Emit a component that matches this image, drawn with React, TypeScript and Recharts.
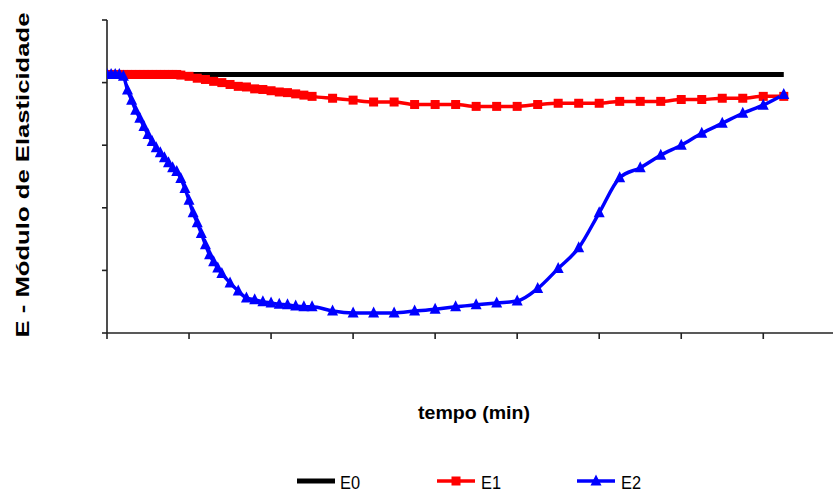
import React from 'react';
import { LineChart, Line, XAxis, YAxis, Legend } from 'recharts';

// time (min)
const e0Time = [0, 165];
const e0Vals = [4.13, 4.13];

const e1Time = [0, 1, 2, 3, 4, 5, 6, 7, 8, 9, 10, 11, 12, 13, 14, 15, 16, 17, 18, 20, 22, 24, 26, 28, 30, 32, 34, 36, 38, 40, 42, 44, 46, 48, 50, 55, 60, 65, 70, 75, 80, 85, 90, 95, 100, 105, 110, 115, 120, 125, 130, 135, 140, 145, 150, 155, 160, 165];
const e1Vals = [4.13, 4.13, 4.13, 4.13, 4.13, 4.13, 4.13, 4.13, 4.13, 4.13, 4.13, 4.13, 4.13, 4.13, 4.13, 4.13, 4.13, 4.13, 4.12, 4.10, 4.07, 4.05, 4.02, 4.0, 3.97, 3.94, 3.93, 3.9, 3.89, 3.87, 3.85, 3.84, 3.82, 3.8, 3.78, 3.75, 3.72, 3.69, 3.69, 3.65, 3.65, 3.65, 3.62, 3.62, 3.62, 3.65, 3.67, 3.67, 3.67, 3.7, 3.7, 3.7, 3.73, 3.73, 3.75, 3.75, 3.78, 3.78];

const e2Time = [0, 1, 2, 3, 4, 5, 6, 7, 8, 9, 10, 11, 12, 13, 14, 15, 16, 17, 18, 19, 20, 21, 22, 23, 24, 25, 26, 27, 28, 30, 32, 34, 36, 38, 40, 42, 44, 46, 48, 50, 55, 60, 65, 70, 75, 80, 85, 90, 95, 100, 105, 110, 115, 120, 125, 130, 135, 140, 145, 150, 155, 160, 165];
const e2Vals = [4.13, 4.13, 4.13, 4.13, 4.1, 3.88, 3.72, 3.56, 3.43, 3.3, 3.17, 3.06, 2.96, 2.88, 2.8, 2.72, 2.64, 2.58, 2.47, 2.31, 2.12, 1.92, 1.76, 1.59, 1.41, 1.25, 1.14, 1.04, 0.95, 0.8, 0.67, 0.56, 0.53, 0.5, 0.48, 0.46, 0.45, 0.43, 0.42, 0.42, 0.35, 0.32, 0.32, 0.32, 0.35, 0.38, 0.42, 0.45, 0.48, 0.51, 0.71, 1.03, 1.36, 1.92, 2.48, 2.64, 2.84, 3.0, 3.19, 3.35, 3.51, 3.64, 3.81];

const xTicks = [0, 20, 40, 60, 80, 100, 120, 140, 160];
const yTicks = [0, 1, 2, 3, 4, 5];
const seriesNames = ['E0', 'E1', 'E2'];
const xLabel = 'tempo (min)';
const yLabel = 'E - Módulo de Elasticidade';

const e0Data = e0Time.map((t, i) => ({ t, v: e0Vals[i] }));
const e1Data = e1Time.map((t, i) => ({ t, v: e1Vals[i] }));
const e2Data = e2Time.map((t, i) => ({ t, v: e2Vals[i] }));

const FONT = '"Liberation Sans", Arial, sans-serif';

const SquareDot = (props: any) => {
  const { cx, cy, index } = props;
  if (cx == null || cy == null) return <g key={`s${index}`} />;
  return <rect key={`s${index}`} x={cx - 4.5} y={cy - 4.5} width={9} height={9} fill="#FF0000" />;
};

const TriDot = (props: any) => {
  const { cx, cy, index } = props;
  if (cx == null || cy == null) return <g key={`t${index}`} />;
  return (
    <polygon
      key={`t${index}`}
      points={`${cx},${cy - 6.5} ${cx - 5.5},${cy + 4.5} ${cx + 5.5},${cy + 4.5}`}
      fill="#0000FF"
    />
  );
};

const LegendContent = () => (
  <svg width={833} height={30} style={{ display: 'block' }}>
    <line x1={297} x2={335} y1={13} y2={13} stroke="#000" strokeWidth={5} />
    <text x={340} y={21} fontFamily={FONT} fontSize={18} textLength={20} lengthAdjust="spacingAndGlyphs" fill="#000">{seriesNames[0]}</text>
    <line x1={437} x2={475} y1={13} y2={13} stroke="#FF0000" strokeWidth={3.5} />
    <rect x={451.5} y={8.5} width={9} height={9} fill="#FF0000" />
    <text x={481} y={21} fontFamily={FONT} fontSize={18} textLength={20} lengthAdjust="spacingAndGlyphs" fill="#000">{seriesNames[1]}</text>
    <line x1={577} x2={615} y1={13} y2={13} stroke="#0000FF" strokeWidth={3.5} />
    <polygon points="596,6.5 590.5,17.5 601.5,17.5" fill="#0000FF" />
    <text x={621} y={21} fontFamily={FONT} fontSize={18} textLength={20} lengthAdjust="spacingAndGlyphs" fill="#000">{seriesNames[2]}</text>
  </svg>
);

export default function App() {
  return (
    <div style={{ position: 'absolute', left: 0, top: 0, width: 833, height: 493, background: '#fff' }}>
      <LineChart width={833} height={493} margin={{ top: 20, right: 0, bottom: 100, left: 97 }}>
        <XAxis
          dataKey="t"
          type="number"
          domain={[0, 177]}
          ticks={xTicks}
          allowDataOverflow
          tickFormatter={() => ''}
          tickSize={6}
          axisLine={{ stroke: '#222', strokeWidth: 1.6 }}
          tickLine={{ stroke: '#222', strokeWidth: 1.6 }}
          height={30}
          label={{
            content: () => (
              <text x={474} y={419} textAnchor="middle" fontFamily={FONT} fontWeight="bold" fontSize={18} textLength={112} lengthAdjust="spacingAndGlyphs" fill="#000">
                {xLabel}
              </text>
            ),
          }}
        />
        <YAxis
          type="number"
          domain={[0, 5]}
          ticks={yTicks}
          width={10}
          tickFormatter={() => ''}
          tickSize={5}
          axisLine={{ stroke: '#222', strokeWidth: 1.6 }}
          tickLine={{ stroke: '#222', strokeWidth: 1.6 }}
          label={{
            content: () => (
              <text x={29} y={175} transform="rotate(-90 29 175)" textAnchor="middle" fontFamily={FONT} fontWeight="bold" fontSize={18} textLength={325} lengthAdjust="spacingAndGlyphs" fill="#000">
                {yLabel}
              </text>
            ),
          }}
        />
        <Legend
          content={() => <LegendContent />}
          wrapperStyle={{ position: 'absolute', left: 0, top: 468, width: 833, height: 30 }}
        />
        <Line data={e0Data} dataKey="v" name={seriesNames[0]} stroke="#000" strokeWidth={5} dot={false} isAnimationActive={false} type="linear" />
        <Line data={e1Data} dataKey="v" name={seriesNames[1]} stroke="#FF0000" strokeWidth={3.5} dot={SquareDot} isAnimationActive={false} type="monotone" />
        <Line data={e2Data} dataKey="v" name={seriesNames[2]} stroke="#0000FF" strokeWidth={3.5} dot={TriDot} isAnimationActive={false} type="monotone" />
      </LineChart>
    </div>
  );
}
